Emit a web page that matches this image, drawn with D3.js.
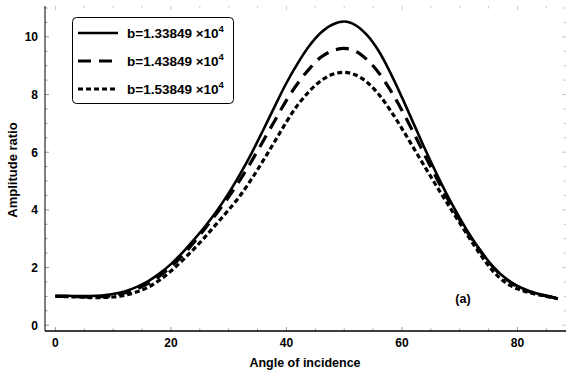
<!DOCTYPE html>
<html><head><meta charset="utf-8">
<script src="https://cdn.jsdelivr.net/npm/d3@7"></script>
<style>body{margin:0;background:#fff}svg{display:block}text{font-family:"Liberation Sans",Arial,sans-serif;font-weight:bold}</style>
</head><body><svg id="c" width="567" height="377"></svg>
<script>
const angles = [0,2,4,6,8,10,12,14,16,18,20,22,24,26,28,30,32,34,36,38,40,42,44,46,48,50,52,54,56,58,60,62,64,66,68,70,72,74,76,78,80,82,84,86,87];
const seriesA = [1.02,1.02,1.01,1.01,1.03,1.08,1.17,1.32,1.52,1.79,2.12,2.52,2.97,3.45,3.98,4.58,5.25,5.98,6.78,7.60,8.40,9.10,9.70,10.15,10.43,10.53,10.40,10.05,9.50,8.75,7.90,7.00,6.10,5.25,4.45,3.72,3.05,2.48,1.97,1.62,1.36,1.19,1.07,0.98,0.93];
const seriesB = [1.00,1.00,0.99,0.98,0.99,1.03,1.12,1.25,1.44,1.70,2.03,2.42,2.88,3.38,3.90,4.45,5.05,5.70,6.40,7.10,7.80,8.40,8.90,9.30,9.52,9.60,9.50,9.20,8.75,8.15,7.45,6.68,5.88,5.10,4.35,3.65,3.02,2.45,1.97,1.60,1.34,1.17,1.06,0.97,0.92];
const seriesC = [1.00,0.99,0.98,0.96,0.96,0.98,1.04,1.15,1.31,1.56,1.88,2.25,2.65,3.08,3.54,4.00,4.50,5.08,5.72,6.38,7.05,7.65,8.12,8.48,8.70,8.77,8.68,8.42,8.00,7.45,6.82,6.15,5.48,4.82,4.18,3.55,2.92,2.33,1.82,1.47,1.26,1.13,1.04,0.96,0.92];
const seriesNames = ["b=1.33849 \u00d710","b=1.43849 \u00d710","b=1.53849 \u00d710"];
const xTicks = [0,20,40,60,80];
const yTicks = [0,2,4,6,8,10];

const svg = d3.select("#c");
const L=45,R=566,T=6,B=331;
const x = d3.scaleLinear().domain([-1.8,88.4]).range([L,R]);
const y = d3.scaleLinear().domain([-0.2,11.07]).range([B,T]);
const styles = [
  {w:2.6,dash:null},
  {w:3.2,dash:"13,8"},
  {w:3.2,dash:"5,3"}
];
const grey="#9a9a9a";
const xMinor = d3.range(0,90,5);
const yMinor = d3.range(0,11.01,0.5);
const g = svg.append("g");
xMinor.forEach(v=>{
  const len = xTicks.includes(v)?4:2.5;
  g.append("line").attr("x1",x(v)).attr("x2",x(v)).attr("y1",B).attr("y2",B-len).attr("stroke",grey).attr("stroke-width",1);
  g.append("line").attr("x1",x(v)).attr("x2",x(v)).attr("y1",T).attr("y2",T+len).attr("stroke","#c8c8c8").attr("stroke-width",1);
});
yMinor.forEach(v=>{
  const len = (v%2===0)?4:2.5;
  g.append("line").attr("y1",y(v)).attr("y2",y(v)).attr("x1",L).attr("x2",L+len).attr("stroke",grey).attr("stroke-width",1);
  g.append("line").attr("y1",y(v)).attr("y2",y(v)).attr("x1",R).attr("x2",R-len).attr("stroke","#c8c8c8").attr("stroke-width",1);
});
svg.append("line").attr("x1",L).attr("x2",R).attr("y1",B).attr("y2",B).attr("stroke","#000").attr("stroke-width",1.6);
svg.append("line").attr("x1",L).attr("x2",L).attr("y1",T).attr("y2",B).attr("stroke","#000").attr("stroke-width",1);
xTicks.forEach(v=>svg.append("text").attr("x",x(v)).attr("y",347).attr("text-anchor","middle").attr("font-size",12).text(v));
yTicks.forEach(v=>svg.append("text").attr("x",38).attr("y",y(v)+4.5).attr("text-anchor","end").attr("font-size",12).text(v));
svg.append("text").attr("x",305).attr("y",367).attr("text-anchor","middle").attr("font-size",12.5).text("Angle of incidence");
svg.append("text").attr("transform","translate(17,170) rotate(-90)").attr("text-anchor","middle").attr("font-size",13).text("Amplitude  ratio");
const line = d3.line().x((d,i)=>x(angles[i])).y(d=>y(d)).curve(d3.curveCatmullRom);
[seriesA,seriesB,seriesC].forEach((s,i)=>{
  svg.append("path").attr("d",line(s)).attr("fill","none").attr("stroke","#000")
    .attr("stroke-width",styles[i].w).attr("stroke-dasharray",styles[i].dash);
});
svg.append("text").attr("x",463).attr("y",303).attr("text-anchor","middle").attr("font-size",12.5).text("(a)");
const lg = svg.append("g");
lg.append("rect").attr("x",72.5).attr("y",17.5).attr("width",161).attr("height",86).attr("rx",4).attr("fill","#fff").attr("stroke","#000").attr("stroke-width",1);
seriesNames.forEach((n,i)=>{
  const yy = 33 + i*28;
  lg.append("line").attr("x1",78).attr("x2",118).attr("y1",yy).attr("y2",yy).attr("stroke","#000")
    .attr("stroke-width",styles[i].w).attr("stroke-dasharray",styles[i].dash);
  const t = lg.append("text").attr("x",127).attr("y",yy+5).attr("font-size",13.5);
  t.append("tspan").text(n);
  t.append("tspan").attr("font-size",9.5).attr("dy",-6).text("4");
});
</script></body></html>
